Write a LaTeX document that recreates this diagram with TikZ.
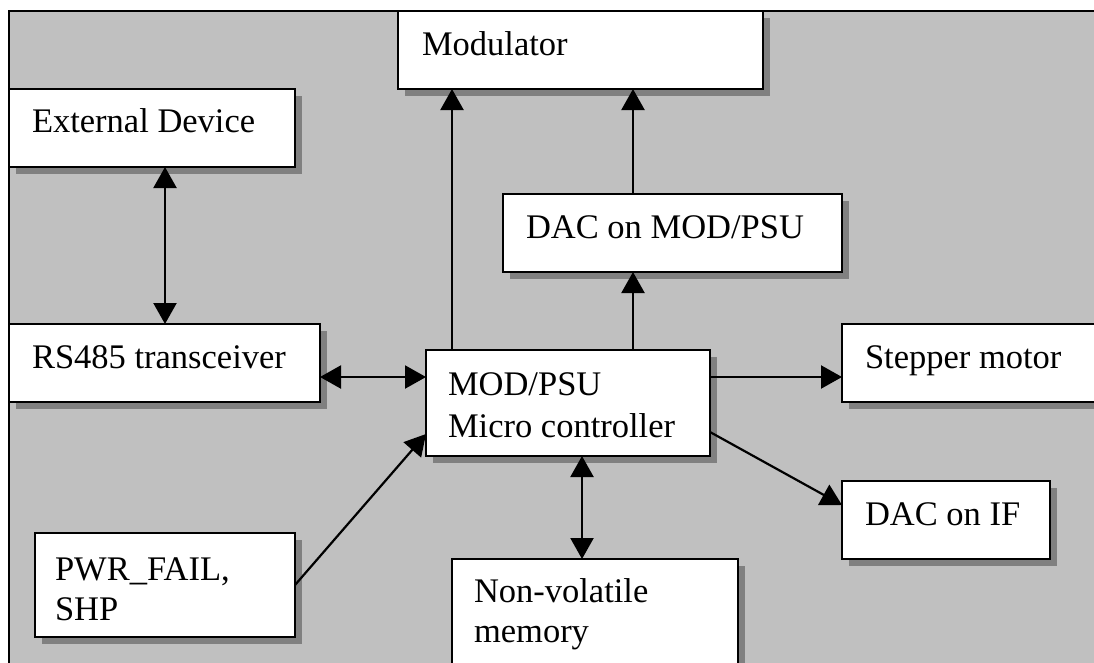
\documentclass[tikz,border=0pt]{standalone}
\usepackage{fontspec}
\setmainfont{Liberation Serif}
\usetikzlibrary{arrows.meta,calc,shadows}
\definecolor{bggray}{HTML}{C0C0C0}
\definecolor{shadowgray}{HTML}{808080}
\tikzset{
  blk/.style={draw=black, line width=2.4pt, fill=white, inner sep=0pt, outer sep=0pt,
    drop shadow={shadow xshift=7pt, shadow yshift=-7pt, fill=shadowgray, opacity=1}},
  txt/.style={anchor=base west, inner sep=0pt, outer sep=0pt,
    font=\fontsize{34.5}{40}\selectfont},
  conn/.style={line width=2.2pt, -{Triangle[length=21pt,width=23pt]}},
  dconn/.style={line width=2.2pt, {Triangle[length=21pt,width=23pt]}-{Triangle[length=21pt,width=23pt]}},
}
% \mkbox{name}{x1}{y1}{x2}{y2}
\newcommand{\mkbox}[5]{%
  \pgfmathsetmacro{\bw}{#4-#2}\pgfmathsetmacro{\bh}{#5-#3}%
  \node[blk, minimum width=\bw pt, minimum height=\bh pt] (#1) at ({(#2+#4)/2},{(#3+#5)/2}) {};}
\begin{document}
\begin{tikzpicture}[x=1pt,y=-1pt]
\useasboundingbox (0,0) rectangle (1094,662);
\clip (0,0) rectangle (1094,662);
\fill[white] (0,0) rectangle (1094,662);
\fill[bggray] (9,11) rectangle (1100,670);
\draw[line width=2.4pt] (9,670) -- (9,11) -- (1100,11);

\mkbox{ext}{9}{89}{295}{167}
\mkbox{mod}{398}{11}{763}{89}
\mkbox{dacm}{503}{194}{842}{272}
\mkbox{rs}{9}{324}{320}{402}
\mkbox{mcu}{426}{350}{710}{456}
\mkbox{step}{842}{324}{1120}{402}
\mkbox{dacif}{842}{481}{1050}{559}
\mkbox{nvm}{452}{559}{738}{700}
\mkbox{pwr}{35}{533}{295}{637}

\node[txt] (ext-t) at ($(ext.north west)+(23,43)$) {External Device};
\node[txt] (mod-t) at ($(mod.north west)+(24,44)$) {Modulator};
\node[txt] (dacm-t) at ($(dacm.north west)+(23,44)$) {DAC on MOD/PSU};
\node[txt] (rs-t) at ($(rs.north west)+(23,44)$) {RS485 transceiver};
\node[txt] (mcu-t1) at ($(mcu.north west)+(22,45)$) {MOD/PSU};
\node[txt] (mcu-t2) at ($(mcu.north west)+(22,87)$) {Micro controller};
\node[txt] (step-t) at ($(step.north west)+(23,44)$) {Stepper motor};
\node[txt] (dacif-t) at ($(dacif.north west)+(23,44)$) {DAC on IF};
\node[txt] (nvm-t1) at ($(nvm.north west)+(22,43)$) {Non-volatile};
\node[txt] (nvm-t2) at ($(nvm.north west)+(22,83)$) {memory};
\node[txt] (pwr-t1) at ($(pwr.north west)+(20,47)$) {PWR\_FAIL,};
\node[txt] (pwr-t2) at ($(pwr.north west)+(20,87)$) {SHP};

% connectors
\coordinate (xa) at ($(rs.north west)+(156,0)$);
\draw[dconn] (ext.south -| xa) -- (xa);
\coordinate (ya) at ($(rs.east)+(0,14)$);
\draw[dconn] (ya) -- (mcu.west |- ya);
\coordinate (xb) at ($(mcu.north west)+(26,0)$);
\draw[conn] (xb) -- (mod.south -| xb);
\coordinate (xc) at ($(mcu.north west)+(207,0)$);
\draw[conn] (xc) -- (dacm.south -| xc);
\draw[conn] (dacm.north -| xc) -- (mod.south -| xc);
\coordinate (yb) at ($(mcu.east)+(0,-26)$);
\draw[conn] (yb) -- (step.west |- yb);
\draw[conn] ($(mcu.east)+(0,29)$) -- ($(dacif.west)+(0,-15)$);
\coordinate (xd) at ($(mcu.south west)+(156,0)$);
\draw[dconn] (xd) -- (nvm.north -| xd);
\draw[conn] (pwr.east) -- ($(mcu.west)+(0,31)$);
\end{tikzpicture}
\end{document}
